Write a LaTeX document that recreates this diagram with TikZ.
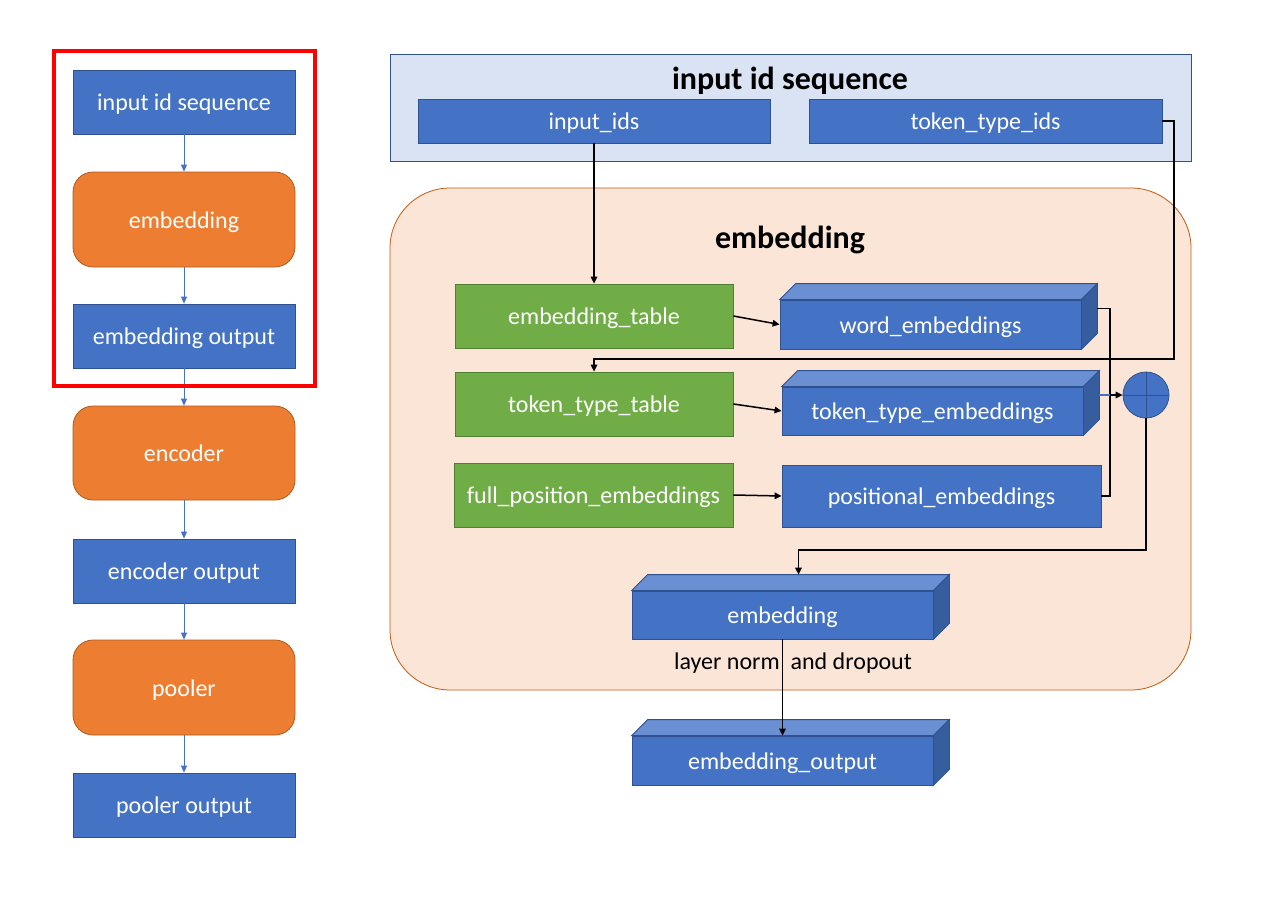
\documentclass[tikz,border=0pt]{standalone}
\usepackage{fontspec}
\setmainfont{Carlito}
\usetikzlibrary{arrows.meta}
\definecolor{bfill}{HTML}{4472C4}
\definecolor{bdraw}{HTML}{2F528F}
\definecolor{btop}{HTML}{6A8FD2}
\definecolor{bside}{HTML}{365E9F}
\definecolor{ofill}{HTML}{ED7D31}
\definecolor{odraw}{HTML}{AE5A21}
\definecolor{gfill}{HTML}{70AD47}
\definecolor{gdraw}{HTML}{507E32}
\definecolor{lbfill}{HTML}{DAE3F3}
\definecolor{pfill}{HTML}{FBE5D6}
\definecolor{pdraw}{HTML}{C55A11}
\newcommand\cubefaces[1]{%
  \filldraw[fill=btop,draw=bdraw,line width=0.8pt] (#1.north west) -- ++(16,-16) -- ([shift={(16,-16)}]#1.north east) -- (#1.north east) -- cycle;
  \filldraw[fill=bside,draw=bdraw,line width=0.8pt] (#1.north east) -- ([shift={(16,-16)}]#1.north east) -- ([shift={(16,-16)}]#1.south east) -- (#1.south east) -- cycle;}
\tikzset{
  lbl/.style={font=\fontsize{24}{28}\selectfont, text=white, inner sep=0pt, line width=0.8pt, text height=19pt, text depth=2pt},
  bluebox/.style={lbl, draw=bdraw, fill=bfill},
  orangebox/.style={lbl, draw=odraw, fill=ofill, rounded corners=20pt},
  greenbox/.style={lbl, draw=gdraw, fill=gfill},
  titletext/.style={font=\fontsize{32}{36}\selectfont\bfseries, text=black, inner sep=0pt, text height=24pt, text depth=4pt},
  larr/.style={draw=bfill, line width=0.8pt, -{Triangle[length=7pt,width=6pt]}},
  karr/.style={draw=black, line width=1.5pt, -{Triangle[length=7pt,width=6.5pt]}},
  kline/.style={draw=black, line width=1.5pt},
}
\begin{document}
\begin{tikzpicture}[x=1pt,y=-1pt]
\useasboundingbox (0,0) rectangle (1280,907);
% left column
\node[bluebox, minimum width=222pt, minimum height=64pt] (l1) at (184,102) {input id sequence};
\node[orangebox, minimum width=222pt, minimum height=95pt] (l2) at (184,219.5) {embedding};
\node[bluebox, minimum width=222pt, minimum height=64pt] (l3) at (184,336) {embedding output};
\node[orangebox, minimum width=222pt, minimum height=94pt] (l4) at (184,453) {encoder};
\node[bluebox, minimum width=222pt, minimum height=64pt] (l5) at (184,571) {encoder output};
\node[orangebox, minimum width=222pt, minimum height=95pt] (l6) at (184,687.5) {pooler};
\node[bluebox, minimum width=222pt, minimum height=64pt] (l7) at (184,805) {pooler output};
\draw[larr] (l1) -- (l2);
\draw[larr] (l2) -- (l3);
\draw[larr] (l3) -- (l4);
\draw[larr] (l4) -- (l5);
\draw[larr] (l5) -- (l6);
\draw[larr] (l6) -- (l7);
\draw[red, line width=3.5pt] (54,51) rectangle (315,386);
% right: input id sequence group
\node[draw=bdraw, fill=lbfill, line width=0.8pt, minimum width=801pt, minimum height=107pt, inner sep=0pt] (grp1) at (790.5,107.5) {};
\node[titletext] (t1) at (790,79) {input id sequence};
\node[bluebox, minimum width=352pt, minimum height=44pt] (iid) at (594,121) {input\_ids};
\node[bluebox, minimum width=353pt, minimum height=44pt] (tid) at (985.5,121) {token\_type\_ids};
% embedding group
\node[draw=pdraw, fill=pfill, line width=0.8pt, rounded corners=60pt, minimum width=801pt, minimum height=502pt, inner sep=0pt] (grp2) at (790.5,439) {};
\node[titletext] (t2) at (790,238) {embedding};
\node[greenbox, minimum width=278pt, minimum height=64pt] (etab) at (594,316) {embedding\_table};
\node[greenbox, minimum width=278pt, minimum height=64pt] (ttab) at (594,404) {token\_type\_table};
\node[greenbox, minimum width=279pt, minimum height=64pt] (ftab) at (593.5,495) {full\_position\_embeddings};
\node[bluebox, minimum width=301pt, minimum height=49pt] (we) at (930.5,324.5) {word\_embeddings};
\cubefaces{we}
\node[bluebox, minimum width=301pt, minimum height=48pt] (tte) at (932.5,411) {token\_type\_embeddings};
\cubefaces{tte}
\node[bluebox, minimum width=319pt, minimum height=62pt] (pos) at (941.5,496) {positional\_embeddings};
\node[circle, draw=bdraw, fill=bfill, line width=0.8pt, minimum size=46pt, inner sep=0pt] (plus) at (1146,395) {};
\draw[bdraw, line width=0.8pt] (plus.north) -- (plus.south) (plus.west) -- (plus.east);
\node[bluebox, minimum width=301pt, minimum height=48pt] (emb) at (782.5,615) {embedding};
\cubefaces{emb}
\node[bluebox, minimum width=301pt, minimum height=49pt] (eout) at (782.5,760.5) {embedding\_output};
\cubefaces{eout}
\node[font=\fontsize{24}{28}\selectfont, text=black, inner sep=0pt, text height=19pt, text depth=2pt] (lnd) at (793,661) {layer norm\ \ and dropout};
% connectors
\coordinate (c1) at (1174,359);
\coordinate (bt) at (1110,308.5);
\coordinate (bm) at (1110,395);
\coordinate (bb) at (1110,496);
\coordinate (c2) at (1146,550);
\draw[karr] (iid.south) -- (etab.north);
\draw[karr] (tid.east) -| (c1) -| (ttab.north);
\draw[karr] (etab.east) -- (we.west);
\draw[karr] (ttab.east) -- (tte.west);
\draw[karr] (ftab.east) -- (pos.west);
\draw[kline] ([shift={(16,-16)}]we.east) -- (bt) -- (bb) -- (pos.east);
\draw[bfill, line width=1.5pt] ([shift={(16,-16)}]tte.east) -- (bm);
\draw[karr] (bm) -- (plus.west);
\draw[karr] (plus.south) -- (c2) -| ([shift={(16,-16)}]emb.north);
\draw[karr] (emb.south) -- (eout.north);
\end{tikzpicture}
\end{document}
